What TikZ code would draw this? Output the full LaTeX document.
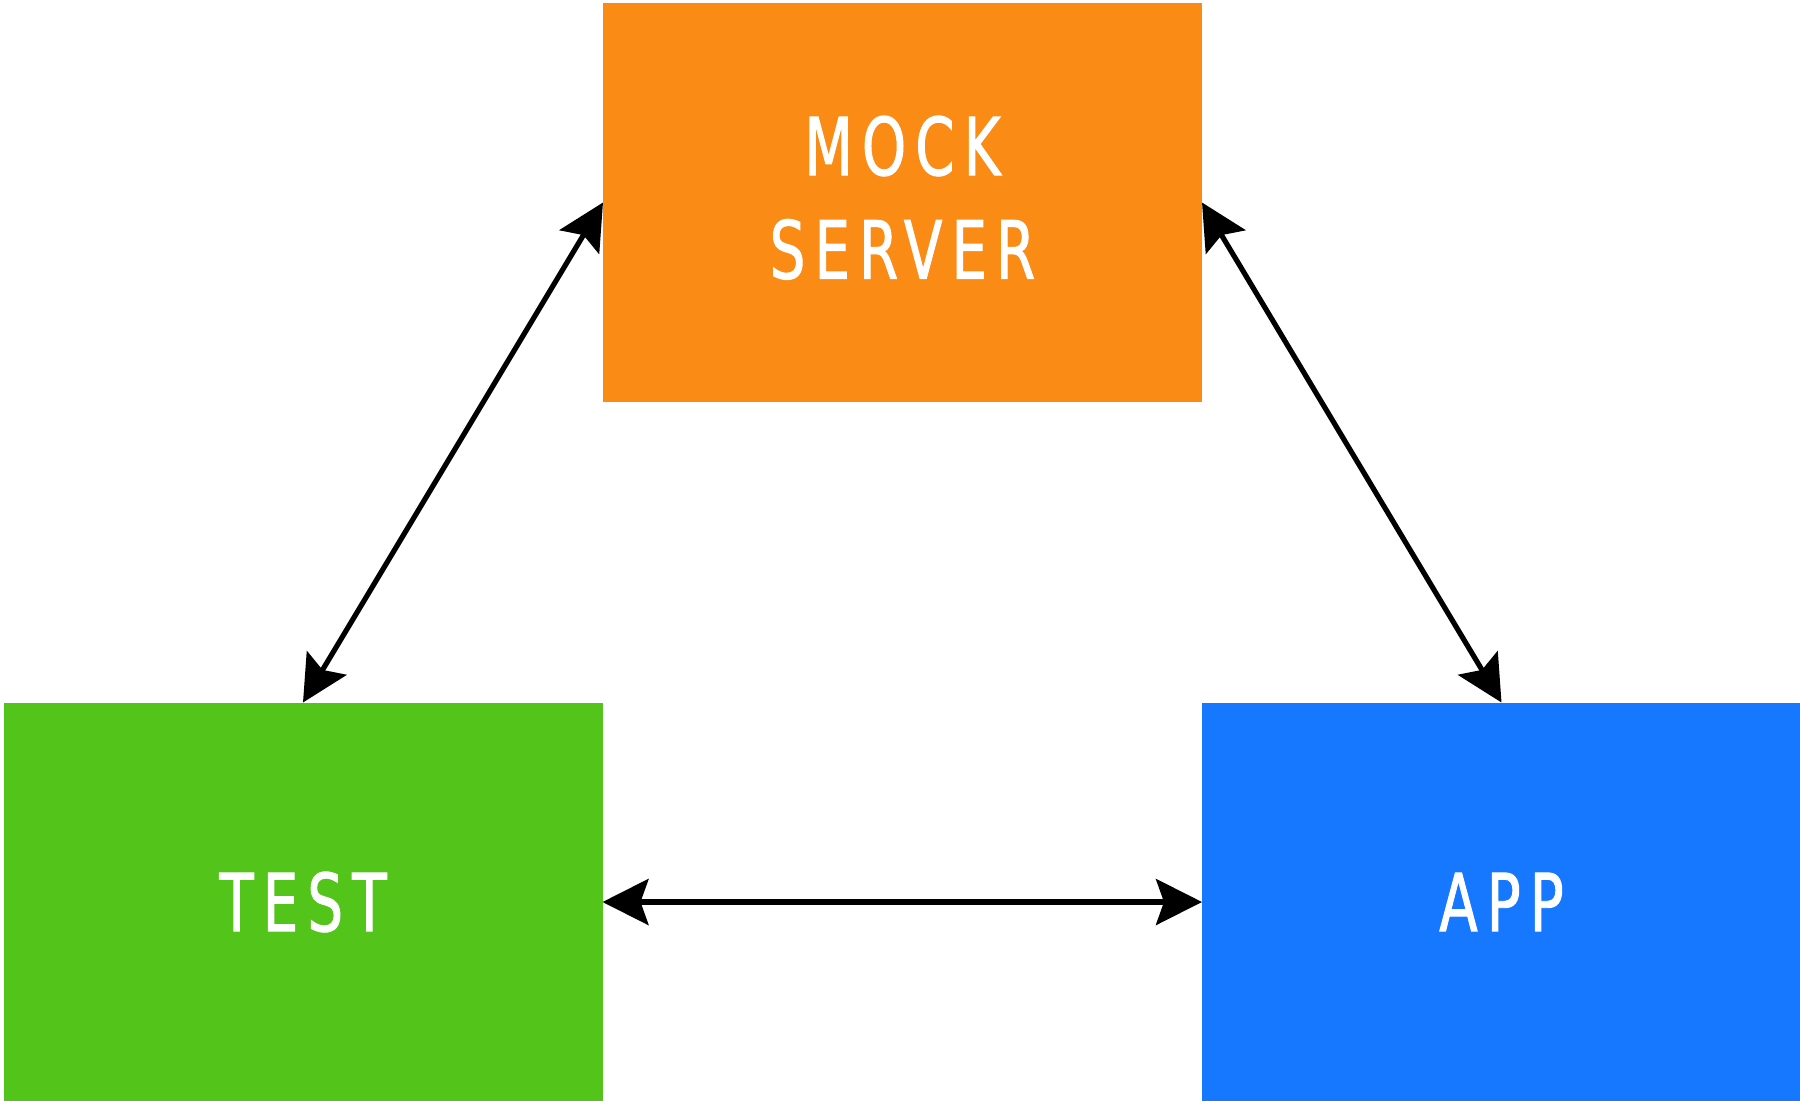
\documentclass[tikz,border=0pt]{standalone}
\usepackage{fontspec}
\setmainfont{Liberation Sans}
\newfontfamily\boxfont[FakeStretch=0.78,LetterSpace=11.5,FakeBold=1.2]{DejaVu Sans Condensed}
\usetikzlibrary{arrows.meta}
\definecolor{mockorange}{HTML}{FA8C16}
\definecolor{testgreen}{HTML}{52C41A}
\definecolor{appblue}{HTML}{1677FF}
\begin{document}
\begin{tikzpicture}[x=0.5pt,y=-0.5pt,
  blockbox/.style={rectangle, inner sep=0pt, outer sep=0pt, minimum width=299.5pt, minimum height=199.5pt},
  blocktext/.style={inner sep=0pt, text=white, align=center, font=\boxfont\fontsize{40pt}{51.7pt}\selectfont},
  link/.style={line width=2.6pt, {Stealth[length=23pt,width=23pt,inset=4pt]}-{Stealth[length=23pt,width=23pt,inset=4pt]}}]
\useasboundingbox (0,0) rectangle (1800,1100);
\node[blockbox, fill=mockorange] (mock) at (902.5,202.5) {};
\node[blockbox, fill=testgreen] (test) at (303,902) {};
\node[blockbox, fill=appblue] (app) at (1501.5,902) {};
\node[blocktext] (mocktext) at ([yshift=2.4pt]mock.center) {MOCK\\SERVER};
\node[blocktext] (testtext) at (test.center) {TEST};
\node[blocktext] (apptext) at (app.center) {APP};
\draw[link] (test.north) -- (mock.west);
\draw[link] (mock.east) -- (app.north);
\draw[link] (test.east) -- (app.west);
\end{tikzpicture}
\end{document}
